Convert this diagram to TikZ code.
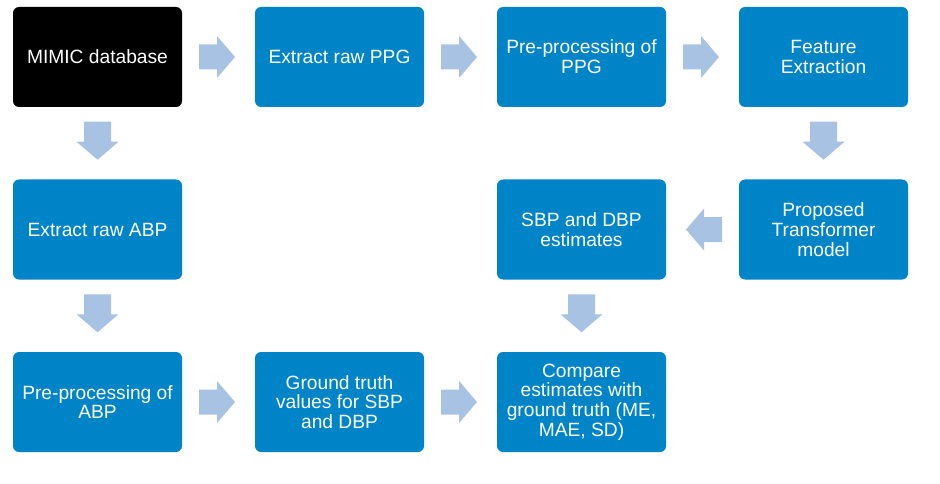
\documentclass[tikz,border=0pt]{standalone}
\usepackage{fontspec}
\setmainfont{Liberation Sans}
\usetikzlibrary{calc}
\definecolor{boxblue}{HTML}{0084C8}
\definecolor{arrowblue}{HTML}{A8C2E3}
\begin{document}
\begin{tikzpicture}[x=1pt,y=1pt,
  stepbox/.style={fill=boxblue, rounded corners=6pt, minimum width=169pt, minimum height=100pt,
    text=white, align=center, inner sep=0pt, font=\fontsize{19.2}{19.8}\selectfont},
  blackbox/.style={stepbox, fill=black},
  rarrow/.pic={\fill[arrowblue] (-18,-12.5) -- (0,-12.5) -- (0,-21) -- (18,0) -- (0,21) -- (0,12.5) -- (-18,12.5) -- cycle;},
  darrow/.pic={\fill[arrowblue] (-13.5,20) -- (-13.5,0) -- (-21,0) -- (0,-18) -- (21,0) -- (13.5,0) -- (13.5,20) -- cycle;}
]
\useasboundingbox (0,0) rectangle (940,-484);
\node[blackbox] (mimic) at (97.5,-57) {MIMIC database};
\node[stepbox] (ppg) at (339.5,-57) {Extract raw PPG};
\node[stepbox] (preppg) at (581.5,-57) {Pre-processing of\\PPG};
\node[stepbox] (feat) at (823.5,-57) {Feature\\Extraction};
\node[stepbox] (abp) at (97.5,-229.5) {Extract raw ABP};
\node[stepbox] (est) at (581.5,-229.5) {SBP and DBP\\estimates};
\node[stepbox] (model) at (823.5,-229.5) {Proposed\\Transformer\\model};
\node[stepbox] (preabp) at (97.5,-402) {Pre-processing of\\ABP};
\node[stepbox] (gt) at (339.5,-402) {Ground truth\\values for SBP\\and DBP};
\node[stepbox] (cmp) at (581.5,-402) {Compare\\estimates with\\ground truth (ME,\\MAE, SD)};
\pic at ($(mimic.east)!0.5!(ppg.west)+(-1.5,0)$) {rarrow};
\pic at ($(ppg.east)!0.5!(preppg.west)+(-1.5,0)$) {rarrow};
\pic at ($(preppg.east)!0.5!(feat.west)+(-1.5,0)$) {rarrow};
\pic at ($(feat.south)!0.5!(model.north)+(0,1.5)$) {darrow};
\pic[rotate=180] at ($(model.west)!0.5!(est.east)+(1.5,0)$) {rarrow};
\pic at ($(est.south)!0.5!(cmp.north)+(0,1.5)$) {darrow};
\pic at ($(mimic.south)!0.5!(abp.north)+(0,1.5)$) {darrow};
\pic at ($(abp.south)!0.5!(preabp.north)+(0,1.5)$) {darrow};
\pic at ($(preabp.east)!0.5!(gt.west)+(-1.5,0)$) {rarrow};
\pic at ($(gt.east)!0.5!(cmp.west)+(-1.5,0)$) {rarrow};
\end{tikzpicture}
\end{document}
